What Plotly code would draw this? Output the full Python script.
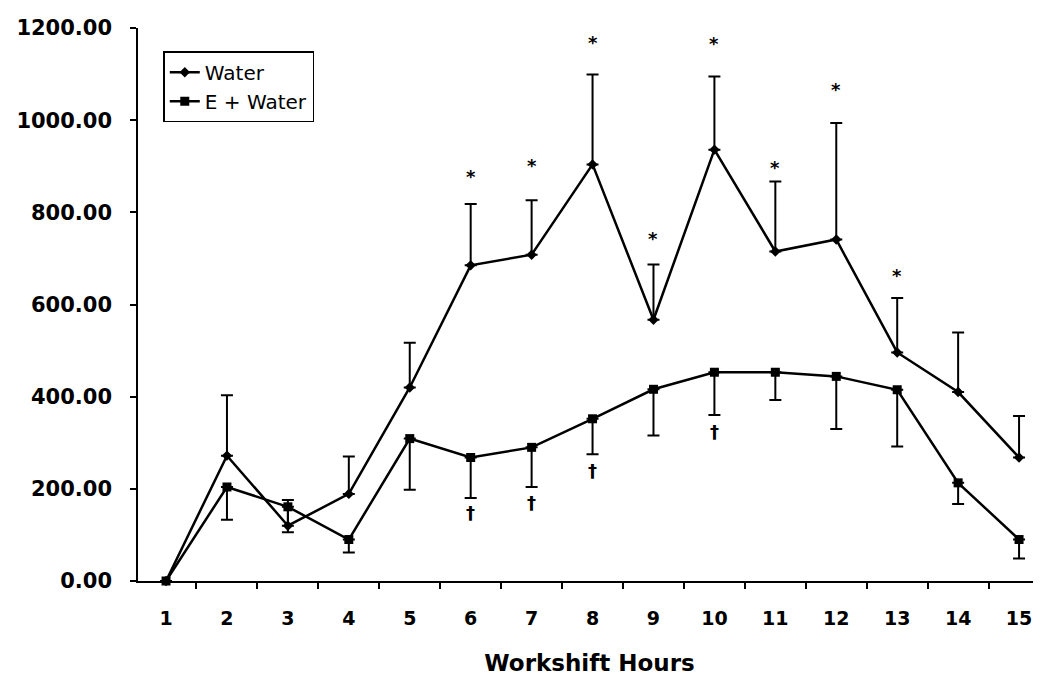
import plotly.graph_objects as go

hours = [str(i) for i in range(1, 16)]
water = [0, 272, 120, 189, 420, 685, 708, 904, 567, 936, 715, 741, 496, 410, 268]
water_err_up = [0, 131, 56, 81, 97, 133, 118, 195, 120, 159, 152, 253, 118, 129, 90]
e_water = [0, 204, 161, 90, 309, 268, 290, 352, 416, 453, 453, 444, 415, 213, 90]
e_water_err_down = [0, 71, 55, 28, 111, 88, 86, 77, 100, 93, 60, 114, 123, 46, 41]

star_x = ["6", "7", "8", "9", "10", "11", "12", "13"]
star_y = [878, 902, 1168, 743, 1166, 897, 1067, 663]
dagger_x = ["6", "7", "8", "10"]
dagger_y = [148, 170, 240, 324]

FONT = "DejaVu Sans"

fig = go.Figure()
fig.add_trace(go.Scatter(
    x=hours, y=water, name="Water", mode="lines+markers",
    line=dict(color="black", width=2.5),
    marker=dict(symbol="diamond", size=8, color="black"),
    error_y=dict(type="data", symmetric=False, array=water_err_up,
                 arrayminus=[0] * 15, color="black", thickness=2, width=6),
    cliponaxis=False,
))
fig.add_trace(go.Scatter(
    x=hours, y=e_water, name="E + Water", mode="lines+markers",
    line=dict(color="black", width=2.5),
    marker=dict(symbol="square", size=9, color="black"),
    error_y=dict(type="data", symmetric=False, array=[0] * 15,
                 arrayminus=e_water_err_down, color="black", thickness=2, width=6),
    cliponaxis=False,
))

for xs, ys in zip(star_x, star_y):
    fig.add_annotation(x=hours.index(xs), y=ys, text="<b>*</b>", showarrow=False,
                       font=dict(family=FONT, size=18, color="black"))
for xs, ys in zip(dagger_x, dagger_y):
    fig.add_annotation(x=hours.index(xs), y=ys, text="<b>†</b>", showarrow=False,
                       font=dict(family=FONT, size=18, color="black"))

fig.update_layout(
    width=1041, height=678,
    margin=dict(l=125, r=8, t=14, b=105),
    paper_bgcolor="white", plot_bgcolor="white",
    font=dict(family=FONT, color="black"),
    showlegend=True,
    legend=dict(x=0.028, y=0.958, xanchor="left", yanchor="top",
                bordercolor="black", borderwidth=1.5, bgcolor="white",
                font=dict(size=20, family=FONT),
                tracegroupgap=0, itemwidth=30),
    xaxis=dict(type="category", range=[-0.46, 14.36],
               tickson="boundaries", ticks="outside", ticklen=6,
               tickcolor="black", tickwidth=1.5,
               showline=True, linecolor="black", linewidth=1.5,
               showgrid=False, zeroline=False, ticklabelstandoff=19,
               tickfont=dict(size=19, family=FONT, weight="bold"),
               title=dict(text="<b>Workshift Hours</b>", standoff=27,
                          font=dict(size=23, family=FONT))),
    yaxis=dict(range=[0, 1200], tickvals=[0, 200, 400, 600, 800, 1000, 1200],
               tickformat=".2f", ticks="outside", ticklen=6,
               tickcolor="black", tickwidth=1.5,
               showline=True, linecolor="black", linewidth=1.5,
               showgrid=False, zeroline=False, ticklabelstandoff=14,
               tickfont=dict(size=21, family=FONT, weight="bold")),
)

fig.write_html("out.html")
